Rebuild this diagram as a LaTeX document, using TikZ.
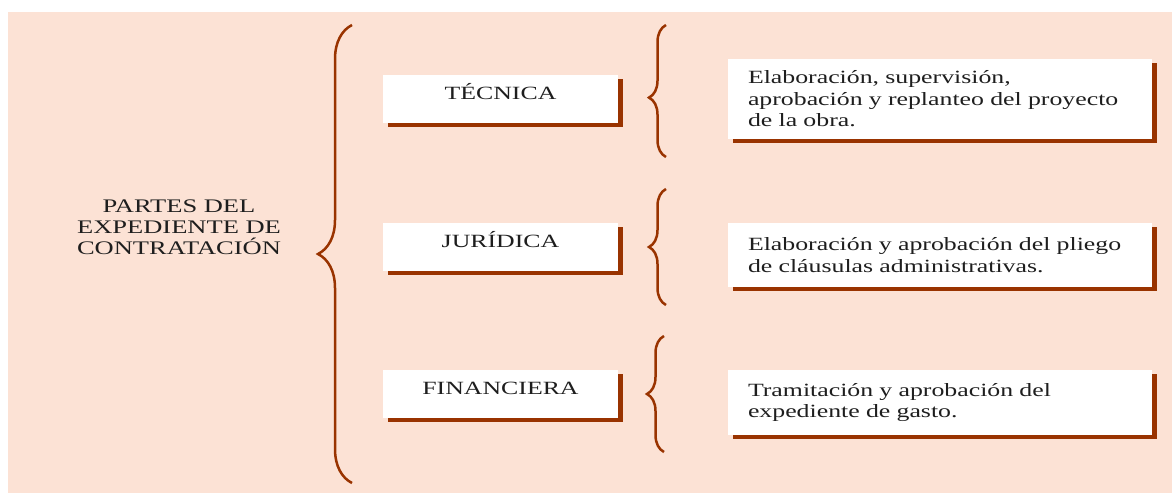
\documentclass[tikz,border=0pt]{standalone}
\usepackage{fontspec}
\setmainfont{Liberation Serif}[FakeStretch=1.38]
\usetikzlibrary{shadows,decorations.pathreplacing}
\definecolor{peach}{RGB}{252,226,213}
\definecolor{rust}{RGB}{153,51,0}
\definecolor{ink}{RGB}{30,30,30}

\begin{document}
\begin{tikzpicture}[x=1pt,y=-1pt]

\tikzset{part/.style = {fill=white, text=ink, minimum width=235pt, inner sep=0pt, text height=24pt, text depth=24pt,
  font=\fontsize{18.7}{21}\selectfont, drop shadow={shadow xshift=5pt, shadow yshift=-4pt, fill=rust, opacity=1}}}
\tikzset{detail/.style = {fill=white, text=ink, minimum width=424pt, text width=384pt, inner xsep=20pt, inner ysep=0pt, align=left,
  font=\fontsize{18.7}{21.5}\selectfont, drop shadow={shadow xshift=5pt, shadow yshift=-4pt, fill=rust, opacity=1}}}
\tikzset{curly/.style = {draw=rust, line width=2.5pt, decorate, decoration={brace, amplitude=#1}}}

\useasboundingbox (0,0) rectangle (1172,493);
\fill[peach] (8,12) rectangle (1172,493);

% main label
\node[align=center, text=ink, font=\fontsize{19.2}{21}\selectfont] (partes) at (179,227.5) {PARTES DEL\\EXPEDIENTE DE\\CONTRATACIÓN};

% parts
\node[part] (tec) at (500.5,99) {TÉCNICA};
\node[part] (jur) at (500.5,247) {JURÍDICA};
\node[part] (fin) at (500.5,394) {FINANCIERA};

% details
\node[detail, minimum height=80pt] (dtec) at (940,99) {Elaboración, supervisión,\\aprobación y replanteo del proyecto\\de la obra.};
\node[detail, minimum height=64pt] (djur) at (940,255) {Elaboración y aprobación del pliego\\de cláusulas administrativas.};
\node[detail, minimum height=65pt] (dfin) at (940,402.5) {Tramitación y aprobación del\\expediente de gasto.};

% braces
\coordinate (b0s) at (352,483);
\coordinate (b0e) at (352,25);
\coordinate (b1s) at (666,157);
\coordinate (b1e) at (666,25);
\coordinate (b2s) at (666,305);
\coordinate (b2e) at (666,189);
\coordinate (b3s) at (664,452);
\coordinate (b3e) at (664,336);

\draw[curly=34pt] (b0s) -- (b0e);
\draw[curly=17pt, decoration={aspect=0.45}] (b1s) -- (b1e);
\draw[curly=17pt] (b2s) -- (b2e);
\draw[curly=17pt] (b3s) -- (b3e);
\end{tikzpicture}
\end{document}
